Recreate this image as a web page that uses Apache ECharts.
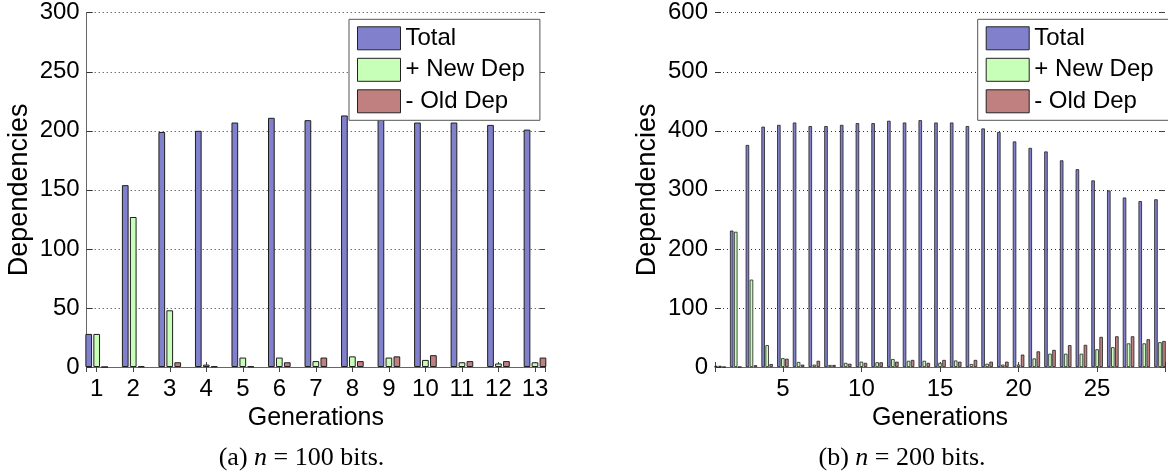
<!DOCTYPE html>
<html>
<head>
<meta charset="utf-8">
<script src="https://cdn.jsdelivr.net/npm/echarts@6/dist/echarts.min.js"></script>
<style>html,body{margin:0;padding:0;background:#fff}#c{width:1168px;height:472px}</style>
</head>
<body>
<div id="c"></div>
<script>
// ---- data: panel (a) n = 100 bits ----
const gensA  = [1,2,3,4,5,6,7,8,9,10,11,12,13];
const totalA = [28,154,199,200,207,211,209,213,211,207,207,205,201];
const newA   = [28,127,48,2,8,8,5,9,8,6,4,3,4];
const oldA   = [0,0.5,4,0.5,0.5,4,8,5,9,10,5,5,8];
// ---- data: panel (b) n = 200 bits ----
const gensB  = [1,2,3,4,5,6,7,8,9,10,11,12,13,14,15,16,17,18,19,20,21,22,23,24,25,26,27,28,29];
const totalB = [2,231,376,407,410,414,408,408,410,413,413,417,414,418,414,414,408,404,398,382,371,365,350,335,316,299,287,281,284];
const newB   = [2,229,148,37,15,8.5,4,3.4,7,9,8,13.5,10.5,10.5,7,11,5,5.5,4,4,14.5,22.5,22.5,22.5,30,33.5,40,40,42];
const oldB   = [0,0,3,5,14,4,10.5,3.4,5.5,7,8,9,12,7,12,9,12,9,9,21,26.5,29,37,37.5,51,52,52,47,44];
const seriesNames = ['Total', '+ New Dep', '- Old Dep'];
const yTicksA = [0, 300, 50];
const yTicksB = [0, 600, 100];

const SANS = 'Liberation Sans, Arial, Helvetica, sans-serif';
const SERIF = 'Liberation Serif, Times New Roman, serif';
const colors = ['#8080cc', '#c8ffb8', '#c08080'];

const pair = (xs, ys) => xs.map((x, i) => [x, ys[i]]);

function xAxes(grid, min, max, step) {
  const base = {
    gridIndex: grid, type: 'value', min: min, max: max,
    minInterval: step, maxInterval: step,
    splitLine: { show: false }
  };
  return [
    Object.assign({}, base, {
      position: 'bottom',
      axisLine: { show: true, lineStyle: { color: '#666', width: 1 } },
      axisTick: { show: true, inside: true, length: 5, lineStyle: { color: '#444' } },
      axisLabel: {
        fontSize: 24, color: '#000', fontFamily: SANS, margin: 10,
        formatter: v => (Math.abs(v - Math.round(v)) < 1e-6 ? String(Math.round(v)) : ''),
        showMinLabel: true, showMaxLabel: true
      },
      name: 'Generations', nameLocation: 'middle', nameGap: 36,
      nameTextStyle: { fontSize: 25, color: '#000', fontFamily: SANS }
    }),
    Object.assign({}, base, {
      position: 'top',
      axisLine: { show: false },
      axisTick: { show: true, inside: true, length: 5, lineStyle: { color: '#444' } },
      axisLabel: { show: false }
    })
  ];
}

function yAxes(grid, t, showLine) {
  return [
    {
      gridIndex: grid, type: 'value', min: t[0], max: t[1], interval: t[2],
      position: 'left',
      axisLine: { show: showLine, lineStyle: { color: '#666', width: 1 } },
      axisTick: { show: true, inside: true, length: 6, lineStyle: { color: '#333' } },
      axisLabel: { fontSize: 24, color: '#000', fontFamily: SANS, margin: 7 },
      splitLine: { show: true, lineStyle: { type: [1, 3], color: '#333', width: 1 } },
      name: 'Dependencies', nameLocation: 'middle', nameGap: 54,
      nameTextStyle: { fontSize: 27, color: '#000', fontFamily: SANS }
    },
    {
      gridIndex: grid, type: 'value', min: t[0], max: t[1], interval: t[2],
      position: 'right',
      axisLine: { show: false },
      axisTick: { show: true, inside: true, length: 5, lineStyle: { color: '#444' } },
      axisLabel: { show: false },
      splitLine: { show: false }
    }
  ];
}

function barSeries(xIdx, yIdx, xs, arrays, bw, gap, bwid) {
  return arrays.map((ys, i) => ({
    name: seriesNames[i], type: 'bar',
    xAxisIndex: xIdx, yAxisIndex: yIdx,
    data: pair(xs, ys),
    barWidth: bw, barGap: gap,
    itemStyle: { color: colors[i], borderColor: '#1e1e1e', borderWidth: bwid },
    emphasis: { disabled: true },
    animation: false
  }));
}

function legend(left) {
  return {
    left: left, top: 19.3, orient: 'vertical',
    itemWidth: 43, itemHeight: 23, itemGap: 7.5,
    padding: [7, 15, 7, 8],
    borderColor: '#555', borderWidth: 1, backgroundColor: '#fff',
    icon: 'rect', selectedMode: false,
    itemStyle: { borderColor: '#222', borderWidth: 1 },
    textStyle: { fontSize: 24, color: '#000', fontFamily: SANS },
    data: seriesNames
  };
}

function caption(x, label, n) {
  return {
    type: 'text', x: x, y: 458,
    style: {
      text: '{a|(' + label + ') }{i|n}{a| = ' + n + ' bits.}',
      align: 'center', verticalAlign: 'middle',
      rich: {
        a: { fontFamily: SERIF, fontSize: 26, fill: '#000' },
        i: { fontFamily: SERIF, fontSize: 26, fontStyle: 'italic', fill: '#000' }
      }
    }
  };
}

const chart = echarts.init(document.getElementById('c'), null, { renderer: 'canvas' });
const xa = xAxes(0, 0.726, 13.274, 1).concat(xAxes(1, 0.68, 29.32, 5));
const ya = yAxes(0, yTicksA, true).concat(yAxes(1, yTicksB, false));

chart.setOption({
  animation: false,
  backgroundColor: '#fff',
  grid: [
    { left: 86.7, top: 12.7, width: 458.3, height: 354.3 },
    { left: 715, top: 12.7, width: 458, height: 354.3 }
  ],
  xAxis: xa,
  yAxis: ya,
  legend: [legend(349), legend(977.7)],
  series: barSeries(0, 0, gensA, [totalA, newA, oldA], 6.7, '19%', 1)
    .concat(barSeries(2, 2, gensB, [totalB, newB, oldB], 3.5, '15%', 0.8)),
  graphic: [caption(301.5, 'a', 100), caption(902, 'b', 200)]
});
</script>
</body>
</html>
